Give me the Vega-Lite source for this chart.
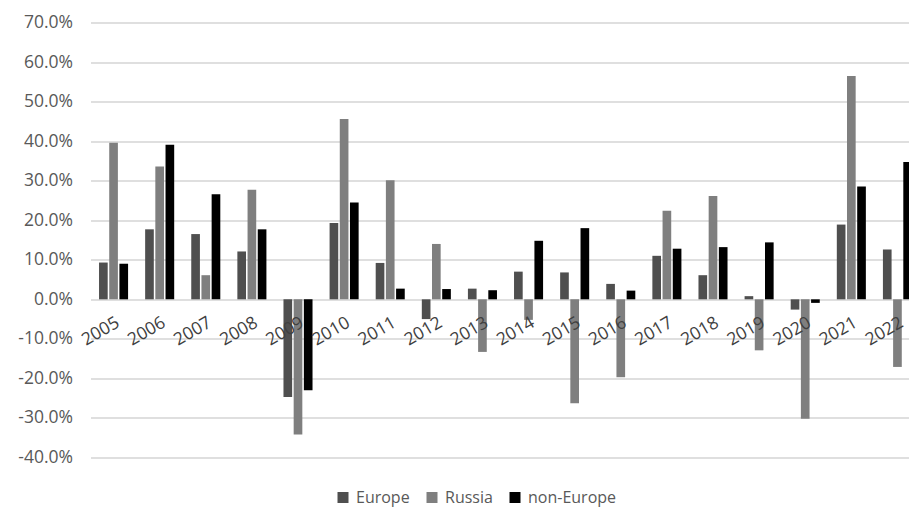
{
  "$schema": "https://vega.github.io/schema/vega-lite/v6.json",
  "width": 819,
  "height": 435,
  "autosize": {"type": "none"},
  "padding": {"left": 90.5, "top": 22.5, "right": 0, "bottom": 52.5},
  "background": "white",
  "config": {"view": {"stroke": null}, "font": "Open Sans"},
  "data": {
    "values": [
      {"year": "2005", "series": "Europe", "value": 0.093},
      {"year": "2005", "series": "Russia", "value": 0.396},
      {"year": "2005", "series": "non-Europe", "value": 0.090},
      {"year": "2006", "series": "Europe", "value": 0.177},
      {"year": "2006", "series": "Russia", "value": 0.336},
      {"year": "2006", "series": "non-Europe", "value": 0.391},
      {"year": "2007", "series": "Europe", "value": 0.165},
      {"year": "2007", "series": "Russia", "value": 0.061},
      {"year": "2007", "series": "non-Europe", "value": 0.266},
      {"year": "2008", "series": "Europe", "value": 0.121},
      {"year": "2008", "series": "Russia", "value": 0.277},
      {"year": "2008", "series": "non-Europe", "value": 0.177},
      {"year": "2009", "series": "Europe", "value": -0.247},
      {"year": "2009", "series": "Russia", "value": -0.342},
      {"year": "2009", "series": "non-Europe", "value": -0.230},
      {"year": "2010", "series": "Europe", "value": 0.193},
      {"year": "2010", "series": "Russia", "value": 0.456},
      {"year": "2010", "series": "non-Europe", "value": 0.245},
      {"year": "2011", "series": "Europe", "value": 0.092},
      {"year": "2011", "series": "Russia", "value": 0.301},
      {"year": "2011", "series": "non-Europe", "value": 0.027},
      {"year": "2012", "series": "Europe", "value": -0.050},
      {"year": "2012", "series": "Russia", "value": 0.140},
      {"year": "2012", "series": "non-Europe", "value": 0.026},
      {"year": "2013", "series": "Europe", "value": 0.027},
      {"year": "2013", "series": "Russia", "value": -0.133},
      {"year": "2013", "series": "non-Europe", "value": 0.023},
      {"year": "2014", "series": "Europe", "value": 0.070},
      {"year": "2014", "series": "Russia", "value": -0.052},
      {"year": "2014", "series": "non-Europe", "value": 0.148},
      {"year": "2015", "series": "Europe", "value": 0.068},
      {"year": "2015", "series": "Russia", "value": -0.263},
      {"year": "2015", "series": "non-Europe", "value": 0.180},
      {"year": "2016", "series": "Europe", "value": 0.039},
      {"year": "2016", "series": "Russia", "value": -0.197},
      {"year": "2016", "series": "non-Europe", "value": 0.022},
      {"year": "2017", "series": "Europe", "value": 0.110},
      {"year": "2017", "series": "Russia", "value": 0.224},
      {"year": "2017", "series": "non-Europe", "value": 0.128},
      {"year": "2018", "series": "Europe", "value": 0.061},
      {"year": "2018", "series": "Russia", "value": 0.261},
      {"year": "2018", "series": "non-Europe", "value": 0.132},
      {"year": "2019", "series": "Europe", "value": 0.008},
      {"year": "2019", "series": "Russia", "value": -0.129},
      {"year": "2019", "series": "non-Europe", "value": 0.144},
      {"year": "2020", "series": "Europe", "value": -0.026},
      {"year": "2020", "series": "Russia", "value": -0.302},
      {"year": "2020", "series": "non-Europe", "value": -0.009},
      {"year": "2021", "series": "Europe", "value": 0.189},
      {"year": "2021", "series": "Russia", "value": 0.565},
      {"year": "2021", "series": "non-Europe", "value": 0.285},
      {"year": "2022", "series": "Europe", "value": 0.126},
      {"year": "2022", "series": "Russia", "value": -0.171},
      {"year": "2022", "series": "non-Europe", "value": 0.347}
    ]
  },
  "mark": {"type": "bar"},
  "encoding": {
    "x": {
      "field": "year",
      "type": "nominal",
      "sort": null,
      "scale": {"rangeMax": 830, "paddingInner": 0.37, "paddingOuter": 0.185},
      "axis": {
        "title": null,
        "domain": false,
        "ticks": false,
        "zindex": 1,
        "offset": -158.2,
        "labelAngle": -30,
        "labelAlign": "right",
        "labelBaseline": "top",
        "labelPadding": 14,
        "labelFontSize": 17.5,
        "labelColor": "#404040",
        "labelFont": "Open Sans"
      }
    },
    "xOffset": {
      "field": "series",
      "type": "nominal",
      "sort": ["Europe", "Russia", "non-Europe"],
      "scale": {"paddingInner": 0.15, "paddingOuter": 0}
    },
    "y": {
      "field": "value",
      "type": "quantitative",
      "scale": {"domain": [-0.4, 0.7], "nice": false, "zero": false},
      "axis": {
        "title": null,
        "domain": false,
        "ticks": false,
        "grid": true,
        "gridColor": "#d4d4d4",
        "gridWidth": 1.3,
        "values": [-0.4, -0.3, -0.2, -0.1, 0, 0.1, 0.2, 0.3, 0.4, 0.5, 0.6, 0.7],
        "labelExpr": "replace(format(datum.value, '.1%'), '\u2212', '-')",
        "labelPadding": 18,
        "labelFontSize": 17.5,
        "labelColor": "#595959",
        "labelFont": "Open Sans"
      }
    },
    "color": {
      "field": "series",
      "type": "nominal",
      "sort": ["Europe", "Russia", "non-Europe"],
      "scale": {
        "domain": ["Europe", "Russia", "non-Europe"],
        "range": ["#4f4f4f", "#7f7f7f", "#000000"]
      },
      "legend": {
        "title": null,
        "orient": "none",
        "direction": "horizontal",
        "legendX": 244.5,
        "legendY": 467,
        "padding": 0,
        "symbolType": "square",
        "symbolSize": 121,
        "symbolStrokeWidth": 0,
        "labelOffset": 5,
        "columnPadding": 14,
        "labelFontSize": 16,
        "labelColor": "#595959",
        "labelFont": "Open Sans"
      }
    }
  }
}
